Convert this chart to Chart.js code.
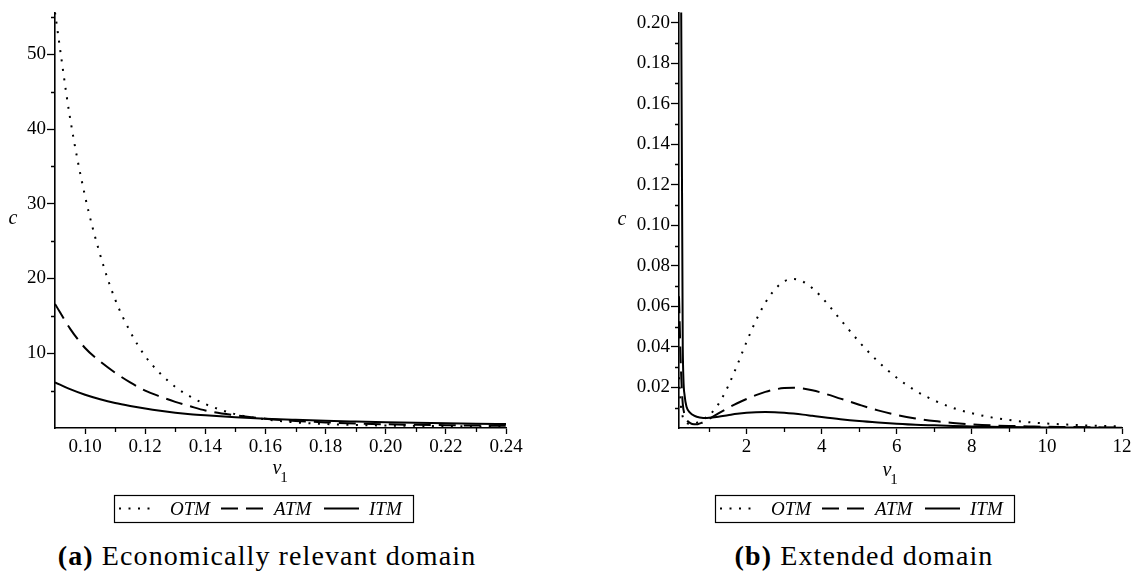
<!DOCTYPE html>
<html>
<head>
<meta charset="utf-8">
<script src="https://cdn.jsdelivr.net/npm/chart.js@4.4.1/dist/chart.umd.min.js"></script>
<style>
  body { margin: 0; background: #fff; }
  #page { position: relative; width: 1138px; height: 580px; }
  #page canvas { position: absolute; top: 0; }
  .caption { position: absolute; top: 540px; font-family: 'Liberation Serif'; font-size: 28px; letter-spacing: 1.1px; line-height: 32px; white-space: nowrap; transform: translateX(-50%); color: #000; }
</style>
</head>
<body>
<div id="page">
  <canvas id="chartA" width="569" height="530" style="left:0"></canvas>
  <canvas id="chartB" width="569" height="530" style="left:569px"></canvas>
  <div class="caption" style="left:267px"><b>(a)</b> Economically relevant domain</div>
  <div class="caption" style="left:864px"><b>(b)</b> Extended domain</div>
</div>
<script>
// (a) economically relevant domain
var v1A  = [0.09, 0.095, 0.10, 0.105, 0.11, 0.115, 0.12, 0.125, 0.13, 0.135, 0.14, 0.15, 0.16, 0.17, 0.18, 0.19, 0.20, 0.21, 0.22, 0.23, 0.24];
var otmA = [55.6, 41.5, 31.0, 23.2, 17.2, 12.9, 9.6, 7.3, 5.5, 4.2, 3.2, 1.85, 1.15, 0.75, 0.53, 0.41, 0.33, 0.28, 0.24, 0.21, 0.19];
var atmA = [16.6, 13.3, 10.7, 8.9, 7.4, 6.1, 5.0, 4.2, 3.5, 2.9, 2.35, 1.7, 1.25, 0.95, 0.75, 0.6, 0.5, 0.43, 0.38, 0.33, 0.3];
var itmA = [6.1, 5.2, 4.45, 3.85, 3.35, 2.95, 2.6, 2.3, 2.05, 1.85, 1.7, 1.45, 1.25, 1.1, 0.97, 0.87, 0.78, 0.7, 0.63, 0.57, 0.52];
var xTicksA = [0.10, 0.12, 0.14, 0.16, 0.18, 0.20, 0.22, 0.24];
var xMinorA = [0.11, 0.13, 0.15, 0.17, 0.19, 0.21, 0.23];
var yTicksA = [10, 20, 30, 40, 50];
var yMinorA = [5, 15, 25, 35, 45, 55];

// (b) extended domain
var v1B  = [0.2, 0.25, 0.3, 0.35, 0.4, 0.5, 0.6, 0.7, 0.8, 0.9, 1.0, 1.25, 1.5, 1.75, 2.0, 2.25, 2.5, 2.75, 3.0, 3.25, 3.5, 3.75, 4.0, 4.5, 5.0, 5.5, 6.0, 6.5, 7.0, 7.5, 8.0, 8.5, 9.0, 9.5, 10.0, 10.5, 11.0, 11.5, 12.0];
var otmB = [0.025, 0.011, 0.0055, 0.0034, 0.0025, 0.002, 0.0022, 0.0028, 0.0037, 0.0049, 0.0062, 0.0118, 0.0203, 0.031, 0.0425, 0.053, 0.0618, 0.0683, 0.0723, 0.0735, 0.0722, 0.069, 0.0645, 0.0535, 0.0425, 0.0328, 0.0248, 0.0184, 0.0136, 0.0099, 0.0073, 0.0053, 0.0039, 0.0029, 0.0022, 0.0017, 0.0013, 0.001, 0.0008];
var atmB = [0.065, 0.03, 0.012, 0.0065, 0.0042, 0.0024, 0.0018, 0.0019, 0.0025, 0.0034, 0.0045, 0.0072, 0.0098, 0.0122, 0.0143, 0.0162, 0.0178, 0.019, 0.0197, 0.0199, 0.0195, 0.0186, 0.0174, 0.0145, 0.0115, 0.0087, 0.0064, 0.0047, 0.0034, 0.0025, 0.0018, 0.0013, 0.001, 0.0008, 0.0006, 0.0005, 0.0004, 0.0003, 0.00025];
var itmB = [0.9, 0.24, 0.04, 0.016, 0.0105, 0.0075, 0.0061, 0.0054, 0.005, 0.0049, 0.005, 0.0056, 0.0063, 0.007, 0.0075, 0.0078, 0.0079, 0.0078, 0.0075, 0.0071, 0.0066, 0.006, 0.0054, 0.0043, 0.0034, 0.0027, 0.0021, 0.0016, 0.0013, 0.001, 0.0008, 0.0006, 0.0005, 0.0004, 0.0003, 0.00025, 0.0002, 0.00017, 0.00015];
var xTicksB = [2, 4, 6, 8, 10, 12];
var xMinorB = [1, 3, 5, 7, 9, 11];
var yTicksB = [0.02, 0.04, 0.06, 0.08, 0.10, 0.12, 0.14, 0.16, 0.18, 0.20];
var yMinorB = [0.01, 0.03, 0.05, 0.07, 0.09, 0.11, 0.13, 0.15, 0.17, 0.19];

var seriesNames = ['OTM', 'ATM', 'ITM'];
var dotted = [2, 7.5];
var dashed = [17, 8];
var solid = [];

var serifName = "'Liberation Serif'";
var tickFont = { family: serifName, size: 19 };
Chart.defaults.font.family = serifName;

function toPoints(xs, ys) {
    return xs.map(function(x, i) { return { x: x, y: ys[i] }; });
}

function makeDataset(label, xs, ys, dash) {
    return {
        label: label,
        data: toPoints(xs, ys),
        borderColor: '#000',
        borderWidth: 2,
        borderDash: dash,
        pointRadius: 0,
        fill: false,
        cubicInterpolationMode: 'monotone'
    };
}

// minor ticks, axis titles and the boxed legend under each plot
function decorPlugin(cfg) {
    return {
        id: 'decor',
        afterDraw: function(chart) {
            var ctx = chart.ctx;
            var area = chart.chartArea;
            var xs = chart.scales.x, ys = chart.scales.y;
            ctx.save();
            ctx.strokeStyle = '#000';
            ctx.lineWidth = 1.3;
            ctx.beginPath();
            cfg.minorX.forEach(function(v) {
                var px = Math.round(xs.getPixelForValue(v)) + 0.5;
                ctx.moveTo(px, area.bottom);
                ctx.lineTo(px, area.bottom + 4);
            });
            cfg.minorY.forEach(function(v) {
                var py = Math.round(ys.getPixelForValue(v)) + 0.5;
                ctx.moveTo(area.left - 4, py);
                ctx.lineTo(area.left, py);
            });
            ctx.stroke();

            ctx.fillStyle = '#000';
            ctx.textAlign = 'center';
            ctx.textBaseline = 'middle';
            ctx.font = 'italic 20px ' + serifName;
            ctx.fillText('c', cfg.cPos[0], cfg.cPos[1]);
            ctx.fillText('v', cfg.vPos[0], cfg.vPos[1]);
            ctx.font = '15px ' + serifName;
            ctx.fillText('1', cfg.vPos[0] + 7, cfg.vPos[1] + 9);

            // legend
            var left = cfg.legendLeft, top = 495, w = 299, h = 27;
            var midY = top + h / 2;
            ctx.lineWidth = 1.2;
            ctx.setLineDash([]);
            ctx.strokeRect(left + 0.5, top + 0.5, w, h);
            var samples = [[5, 43, 56], [107, 153, 160], [210, 245, 255]];
            ctx.font = 'italic 19px ' + serifName;
            ctx.textAlign = 'left';
            chart.data.datasets.forEach(function(ds, i) {
                var s = samples[i];
                ctx.beginPath();
                ctx.lineWidth = 2;
                ctx.setLineDash(ds.borderDash);
                ctx.moveTo(left + s[0], midY);
                ctx.lineTo(left + s[1], midY);
                ctx.stroke();
                ctx.setLineDash([]);
                ctx.fillText(ds.label, left + s[2], midY + 1);
            });
            ctx.restore();
        }
    };
}

function makeChart(canvasId, xs, series, axes, cfg) {
    var ctx = document.getElementById(canvasId).getContext('2d');
    return new Chart(ctx, {
        type: 'line',
        data: {
            datasets: [
                makeDataset(seriesNames[0], xs, series[0], dotted),
                makeDataset(seriesNames[1], xs, series[1], dashed),
                makeDataset(seriesNames[2], xs, series[2], solid)
            ]
        },
        options: {
            responsive: false,
            animation: false,
            layout: { padding: { top: 8, right: cfg.rightPad, bottom: 0, left: 0 } },
            plugins: { legend: { display: false }, tooltip: { enabled: false } },
            scales: {
                x: {
                    type: 'linear',
                    min: axes.xMin, max: axes.xMax,
                    afterFit: function(scale) { scale.height = 102; },
                    afterBuildTicks: function(scale) {
                        scale.ticks = axes.xTicks.map(function(v) { return { value: v }; });
                    },
                    ticks: {
                        font: tickFont, color: '#000', padding: 2, maxRotation: 0,
                        callback: axes.xFmt
                    },
                    grid: { drawOnChartArea: false, drawTicks: true, tickLength: 6, tickColor: '#000', tickWidth: 1.3 },
                    border: { color: '#000', width: 1.6 }
                },
                y: {
                    type: 'linear',
                    min: axes.yMin, max: axes.yMax,
                    afterFit: function(scale) { scale.width = cfg.leftEdge; },
                    afterBuildTicks: function(scale) {
                        scale.ticks = axes.yTicks.map(function(v) { return { value: v }; });
                    },
                    ticks: {
                        font: tickFont, color: '#000', padding: 1,
                        callback: axes.yFmt
                    },
                    grid: { drawOnChartArea: false, drawTicks: true, tickLength: 8, tickColor: '#000', tickWidth: 1.3 },
                    border: { color: '#000', width: 1.6 }
                }
            }
        },
        plugins: [decorPlugin(cfg)]
    });
}

function fixed2(v) { return Number(v).toFixed(2); }
function plain(v) { return String(v); }

makeChart('chartA', v1A, [otmA, atmA, itmA],
    { xMin: 0.09, xMax: 0.24, yMin: 0, yMax: otmA[0], xTicks: xTicksA, yTicks: yTicksA, xFmt: fixed2, yFmt: plain },
    { leftEdge: 55, rightPad: 63, minorX: xMinorA, minorY: yMinorA, cPos: [13, 219], vPos: [277, 469], legendLeft: 114 });

makeChart('chartB', v1B, [otmB, atmB, itmB],
    { xMin: 0.2, xMax: 12, yMin: 0, yMax: 0.205, xTicks: xTicksB, yTicks: yTicksB, xFmt: plain, yFmt: fixed2 },
    { leftEdge: 110, rightPad: 16, minorX: xMinorB, minorY: yMinorB, cPos: [53, 220], vPos: [318, 471], legendLeft: 146 });
</script>
</body>
</html>
